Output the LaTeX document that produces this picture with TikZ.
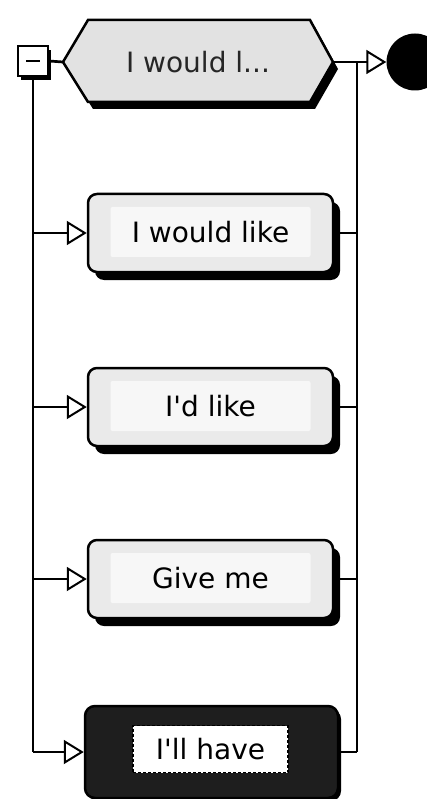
\documentclass[tikz,border=0pt]{standalone}
\usepackage{fontspec}
\setmainfont{DejaVu Sans}[Ligatures=TeXOff]
\usetikzlibrary{arrows.meta,shadows,calc}
\definecolor{boxgray}{HTML}{EAEAEA}
\definecolor{innergray}{HTML}{F7F7F7}
\definecolor{hexgray}{HTML}{E2E2E2}
\definecolor{darkbox}{HTML}{1E1E1E}
\pgfdeclarelayer{background}
\pgfsetlayers{background,main}
\tikzset{
  rail/.style={line width=2.7pt, black},
  tip/.style={-{Triangle[length=20pt,width=24pt,fill=white,line width=2pt]}},
  choice/.style={draw=black, line width=2.5pt, rounded corners=9pt, fill=boxgray,
    minimum width=245pt, minimum height=78pt, inner sep=0pt,
    drop shadow={shadow xshift=7pt, shadow yshift=-8pt, fill=black, opacity=1}},
  lbl/.style={fill=innergray, rounded corners=2pt, minimum width=200pt, minimum height=50pt,
    inner sep=0pt, font=\fontsize{28}{30}\selectfont},
  selbox/.style={draw=black, line width=2.5pt, rounded corners=10pt, fill=darkbox,
    minimum width=253pt, minimum height=92pt, inner sep=0pt,
    drop shadow={shadow xshift=3pt, shadow yshift=-3pt, fill=black, opacity=1}},
  sellbl/.style={fill=white, draw=black, dashed, dash pattern=on 3pt off 2pt, line width=1.5pt,
    minimum width=155pt, minimum height=47pt, inner sep=0pt, font=\fontsize{28}{30}\selectfont}
}
\begin{document}
\begin{tikzpicture}[x=1pt,y=-1pt]
\useasboundingbox (0,0) rectangle (427,799);
% collapse box
\node[draw=black, line width=2pt, fill=white, minimum size=30pt, inner sep=0pt,
  drop shadow={shadow xshift=3pt, shadow yshift=-4pt, fill=black, opacity=1}] (minus) at (33,61) {};
\draw[line width=2pt] ([xshift=-7pt]minus.center) -- ([xshift=7pt]minus.center);
% hexagon header
\begin{scope}[shift={(5,7)}]
  \fill[black] (63,62) -- (88,20) -- (310,20) -- (333,62) -- (310,102) -- (88,102) -- cycle;
\end{scope}
\filldraw[fill=hexgray, draw=black, line width=2.5pt, line join=miter]
  (63,62) -- (88,20) -- (310,20) -- (333,62) -- (310,102) -- (88,102) -- cycle;
\node[minimum width=270pt, minimum height=82pt, inner sep=0pt, text=black!85,
  font=\fontsize{28}{30}\selectfont] (hex) at (198,62) {I would l...};
% end circle
\node[circle, fill=black, minimum size=57pt, inner sep=0pt] (stop) at (415,62) {};
\coordinate (rj) at (357,62);
% choices
\node[choice] (r2) at (210.5,233) {};
\node[lbl] (t2) at (210.5,232) {I would like};
\node[choice] (r3) at (210.5,407) {};
\node[lbl] (t3) at (210.5,406) {I'd like};
\node[choice] (r4) at (210.5,579) {};
\node[lbl] (t4) at (210.5,578) {Give me};
\node[selbox] (r5) at (211.5,752) {};
\node[sellbl] (t5) at (210.5,749) {I'll have};
% connectors
\begin{pgfonlayer}{background}
  \draw[rail] (minus.south) -- (minus.south |- r5.west);
  \draw[rail] (rj) -- (rj |- r5.east);
  \draw[rail] (minus.east) -- (hex.west);
  \foreach \r in {r2,r3,r4,r5} {
    \draw[rail] (\r.east) -- (rj |- \r.east);
  }
\end{pgfonlayer}
\draw[rail,tip] (hex.east) -- (stop.west);
\foreach \r in {r2,r3,r4,r5} {
  \draw[rail,tip] (minus.south |- \r.west) -- (\r.west);
}
\end{tikzpicture}
\end{document}
